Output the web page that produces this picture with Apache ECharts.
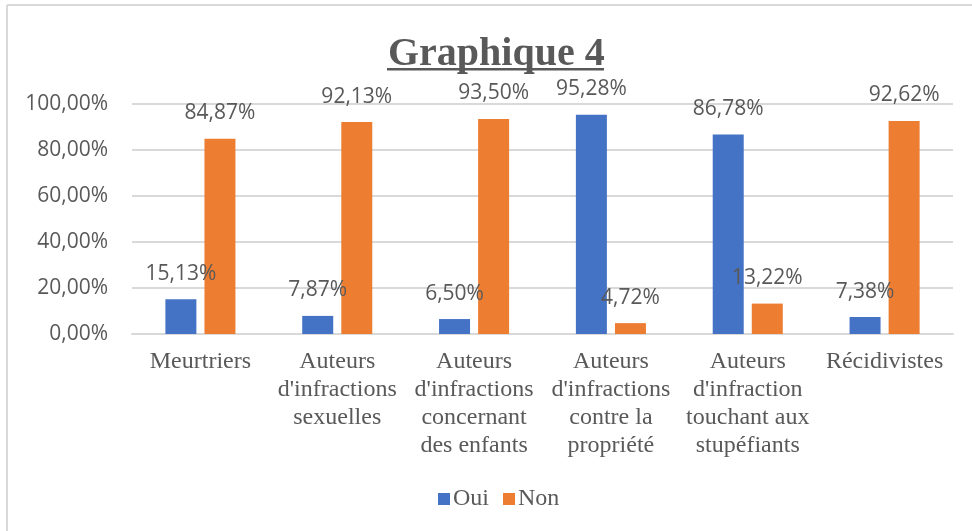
<!DOCTYPE html>
<html>
<head>
<meta charset="utf-8">
<style>
  html, body { margin: 0; padding: 0; background: #fff; }
  #chart { width: 972px; height: 531px; }
</style>
<script src="https://cdn.jsdelivr.net/npm/echarts@6/dist/echarts.min.js"></script>
</head>
<body>
<div id="chart"></div>
<script>
var categories = [
  'Meurtriers',
  'Auteurs\nd\'infractions\nsexuelles',
  'Auteurs\nd\'infractions\nconcernant\ndes enfants',
  'Auteurs\nd\'infractions\ncontre la\npropriété',
  'Auteurs\nd\'infraction\ntouchant aux\nstupéfiants',
  'Récidivistes'
];
var oui = [15.13, 7.87, 6.50, 95.28, 86.78, 7.38];
var non = [84.87, 92.13, 93.50, 4.72, 13.22, 92.62];
var yTicks = [0, 20, 40, 60, 80, 100];

var ink = '#595959';
var grey = '#d9d9d9';
var serif = '"Liberation Serif", "Times New Roman", serif';
var sans = '"Open Sans", "Noto Sans", sans-serif';

function pct(v) {
  return v.toFixed(2).replace('.', ',') + '%';
}

var chart = echarts.init(document.getElementById('chart'), null, { renderer: 'canvas' });

var labelStyle = {
  show: true,
  position: 'top',
  distance: 15,
  color: ink,
  fontFamily: sans,
  fontSize: 21,
  formatter: function(p) { return pct(p.value); }
};

chart.setOption({
  animation: false,
  backgroundColor: '#fff',
  title: {
    text: 'Graphique 4',
    left: 383,
    top: 30,
    textStyle: { color: ink, fontFamily: serif, fontWeight: 'bold', fontSize: 40 }
  },
  graphic: [
    // frame: only top and left edges show
    { type: 'line', shape: { x1: 7, y1: 5, x2: 972, y2: 5 },
      style: { stroke: grey, lineWidth: 2 }, silent: true },
    { type: 'line', shape: { x1: 7, y1: 5, x2: 7, y2: 531 },
      style: { stroke: grey, lineWidth: 2 }, silent: true },
    // title underline
    { type: 'rect', shape: { x: 387, y: 68, width: 217, height: 2.5 },
      style: { fill: ink }, silent: true }
  ],
  legend: {
    data: ['Oui', 'Non'],
    top: 482,
    left: 433,
    itemWidth: 12,
    itemHeight: 12,
    itemGap: 14,
    icon: 'rect',
    textStyle: { color: ink, fontFamily: serif, fontSize: 24, padding: [0, 0, 0, -2] }
  },
  grid: { left: 132, right: 19, top: 104, bottom: 197 },
  xAxis: {
    type: 'category',
    data: categories,
    axisLine: { lineStyle: { color: grey, width: 2 } },
    axisTick: { show: false },
    axisLabel: {
      interval: 0,
      margin: 14,
      color: ink,
      fontFamily: serif,
      fontSize: 24,
      lineHeight: 28
    }
  },
  yAxis: {
    type: 'value',
    min: yTicks[0],
    max: yTicks[yTicks.length - 1],
    interval: 20,
    axisLine: { show: false },
    axisTick: { show: false },
    splitLine: { lineStyle: { color: grey, width: 2 } },
    axisLabel: {
      margin: 24,
      color: ink,
      fontFamily: sans,
      fontSize: 21,
      formatter: function(v) { return pct(v); }
    }
  },
  series: [
    {
      name: 'Oui',
      type: 'bar',
      data: oui,
      barWidth: 31,
      barGap: '26%',
      itemStyle: { color: '#4472C4' },
      label: labelStyle
    },
    {
      name: 'Non',
      type: 'bar',
      data: non,
      barWidth: 31,
      itemStyle: { color: '#ED7D31' },
      label: labelStyle
    }
  ]
});

window.addEventListener('resize', function() { chart.resize(); });
</script>
</body>
</html>
